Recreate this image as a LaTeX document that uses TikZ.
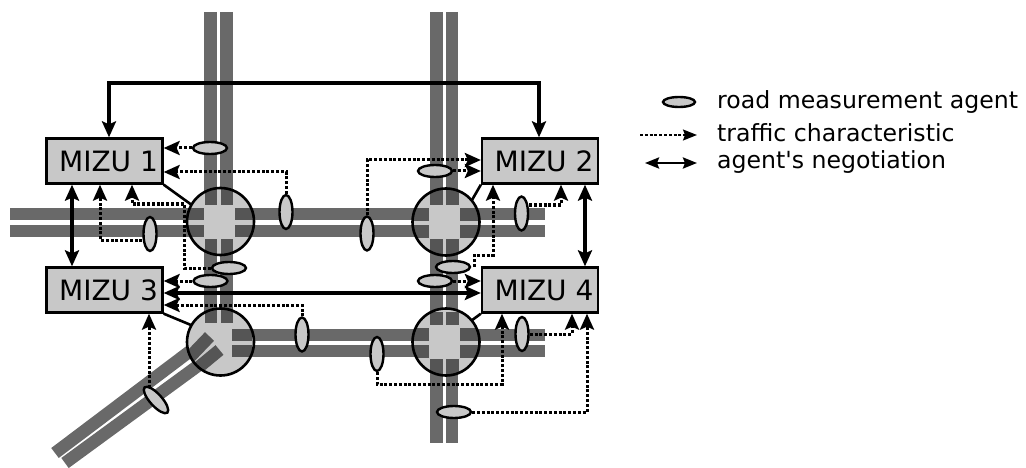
\documentclass[tikz,border=0pt]{standalone}
\usepackage{fontspec}
\setmainfont{DejaVu Sans}
\usetikzlibrary{arrows.meta,shapes.geometric}
\definecolor{roadgray}{HTML}{696969}
\definecolor{stubgray}{HTML}{555555}
\definecolor{boxgray}{HTML}{C8C8C8}
\tikzset{
  road/.style={draw=roadgray,line width=12.5pt},
  stub/.style={fill=stubgray},
  head/.tip={Stealth[length=16pt,width=14pt,inset=3pt]},
  smallhead/.tip={Stealth[length=14pt,width=11pt,inset=2pt]},
  mizu/.style={draw,fill=boxgray,line width=2.3pt,minimum width=116pt,minimum height=45pt,inner sep=0pt,font=\fontsize{28}{28}\selectfont,execute at begin node=\hspace*{8pt}},
  agent/.style={ellipse,draw,fill=boxgray,line width=2.4pt,minimum width=34pt,minimum height=12pt,inner sep=0pt},
  vagent/.style={ellipse,draw,fill=boxgray,line width=2.4pt,minimum width=13pt,minimum height=34pt,inner sep=0pt},
  junction/.style={circle,fill=boxgray,minimum size=67pt,inner sep=0pt},
  traffic/.style={line width=3pt,dash pattern=on 3pt off 1.8pt,-head},
  nego/.style={line width=3.1pt,head-head},
  legend/.style={anchor=base west,inner sep=0pt,font=\fontsize{23.6}{24}\selectfont}
}
\begin{document}
\begin{tikzpicture}[x=1pt,y=-1pt]
    \useasboundingbox (0,0) rectangle (1026,468);
    \draw[road] (210.5,12) -- (210.5,320);
    \draw[road] (226.5,12) -- (226.5,320);
    \draw[road] (436.5,12) -- (436.5,443);
    \draw[road] (452,12) -- (452,443);
    \draw[road] (10,214) -- (545,214);
    \draw[road] (10,231) -- (545,231);
    \draw[road] (232,335) -- (545,335);
    \draw[road] (232,351) -- (545,351);
    \draw[road] (55,453) -- (209.5,336.5);
    \draw[road] (65,463) -- (219.5,350);
    \node[junction] (j1) at (220.5,221.5) {};
    \node[junction] (j2) at (446,222) {};
    \node[junction] (j3) at (220.5,342) {};
    \node[junction] (j4) at (446,342) {};
    \foreach \jn/\jt in {j1/-34,j2/-34,j4/-30} {
      \begin{scope}[shift={(\jn)}]
        \clip (0,0) circle (33.5);
        \fill[stub] (-16,\jt) rectangle (-3.5,-17);
        \fill[stub] (0,\jt) rectangle (12.5,-17);
        \fill[stub] (-16,17) rectangle (-3.5,34);
        \fill[stub] (0,17) rectangle (12.5,34);
        \fill[stub] (-34,-14) rectangle (-17,-1.5);
        \fill[stub] (-34,3) rectangle (-17,15.5);
        \fill[stub] (14,-14) rectangle (34,-1.5);
        \fill[stub] (14,3) rectangle (34,15.5);
      \end{scope}
    }
    \begin{scope}[shift={(j3)}]
      \clip (0,0) circle (33.5);
      \fill[stub] (-15.5,-32) rectangle (-3.5,-19);
      \fill[stub] (0.5,-32) rectangle (12.5,-19);
      \fill[stub] (11.5,-13) rectangle (31,-1.5);
      \fill[stub] (11.5,3) rectangle (31,15);
      \draw[stubgray,line width=12.5pt] (-34,18.5) -- (-11,-5.5);
      \draw[stubgray,line width=12.5pt] (-24,27) -- (-1,8);
    \end{scope}
    \foreach \jn in {j1,j2,j3,j4} {
      \draw[line width=2.6pt] (\jn) circle (33.5);
    }
    \node[mizu] (m1) at (104.5,161) {MIZU 1};
    \node[mizu] (m2) at (540,161) {MIZU 2};
    \node[mizu] (m3) at (104.5,290) {MIZU 3};
    \node[mizu] (m4) at (540,290) {MIZU 4};
    \node[agent] (a1) at (210,148) {};
    \node[vagent] (a2) at (286,212) {};
    \node[vagent] (a3) at (150,234) {};
    \node[agent] (a4) at (229,268) {};
    \node[agent] (a5) at (210.5,281) {};
    \node[vagent] (a6) at (302,334.5) {};
    \node[agent,rotate=-48] (a7) at (156,400) {};
    \node[vagent] (a8) at (367,233.5) {};
    \node[agent] (a9) at (435,171) {};
    \node[vagent] (a10) at (521.5,213.5) {};
    \node[agent] (a11) at (453,267) {};
    \node[agent] (a12) at (435,281) {};
    \node[vagent] (a13) at (377,354) {};
    \node[vagent] (a14) at (522,334) {};
    \node[agent] (a15) at (454,412) {};
    \coordinate (b4) at (184,204);
    \coordinate (b11) at (493,255);
    \coordinate (e11) at (474.5,267);
    \coordinate (b13) at (502,384);
    \coordinate (t7) at (149,388);
    \draw[traffic] (a1) -- (m1.east |- a1);
    \draw[traffic] (a2.north) |- (m1.east |- 0,172);
    \draw[traffic] (a3.west |- 0,240) -| (m1.south -| 100,0);
    \draw[traffic] (a4.west) -| (b4) -| (m1.south -| 132,0);
    \draw[traffic] (a5) -- (m3.east |- a5);
    \draw[traffic] (a6.north) |- (m3.east |- 0,305);
    \draw[traffic] (t7) -- (t7 |- m3.south);
    \draw[traffic] (a8.north) |- (m2.west |- 0,160);
    \draw[traffic] (a9) -- (m2.west |- a9);
    \draw[traffic] (a10.east |- 0,205) -| (m2.south -| 561,0);
    \draw[traffic] (e11) |- (b11) -- (b11 |- m2.south);
    \draw[traffic] (a12) -- (m4.west |- a12);
    \draw[traffic] (a13.south) |- (b13) -- (b13 |- m4.south);
    \draw[traffic] (a14.east) -| (m4.south -| 572,0);
    \draw[traffic] (a15.east) -| (m4.south -| 587,0);
    \draw[nego] (m1.north -| 109,0) |- (539,83) -- (m2.north -| 539,0);
    \draw[nego] (m3.east |- 0,293) -- (m4.west |- 0,293);
    \draw[nego,line width=3.8pt] (m1.south -| 72,0) -- (m3.north -| 72,0);
    \draw[nego,line width=3.8pt] (m2.south -| 585,0) -- (m4.north -| 585,0);
    \draw[line width=2.6pt] (m1.south east) -- (j1.150);
    \draw[line width=2.6pt] (m2.south west) -- (j2.40);
    \draw[line width=2.6pt] (m3.south east) -- (j3.150);
    \draw[line width=2.6pt] (m4.south west) -- (j4.40);
    \node[agent,minimum width=32pt,minimum height=10pt] (la) at (679,102) {};
    \node[legend] (l1) at (717,109) {road measurement agent};
    \node[legend] (l2) at (717,142) {traffic characteristic};
    \node[legend] (l3) at (717,169) {agent\textquotesingle s negotiation};
    \coordinate (lt) at (640,135);
    \coordinate (lte) at (697,135);
    \coordinate (ln) at (645,163);
    \coordinate (lne) at (697,163);
    \draw[traffic,line width=1.7pt,-smallhead] (lt) -- (lte);
    \draw[nego,line width=2.6pt,smallhead-smallhead] (ln) -- (lne);
\end{tikzpicture}
\end{document}
